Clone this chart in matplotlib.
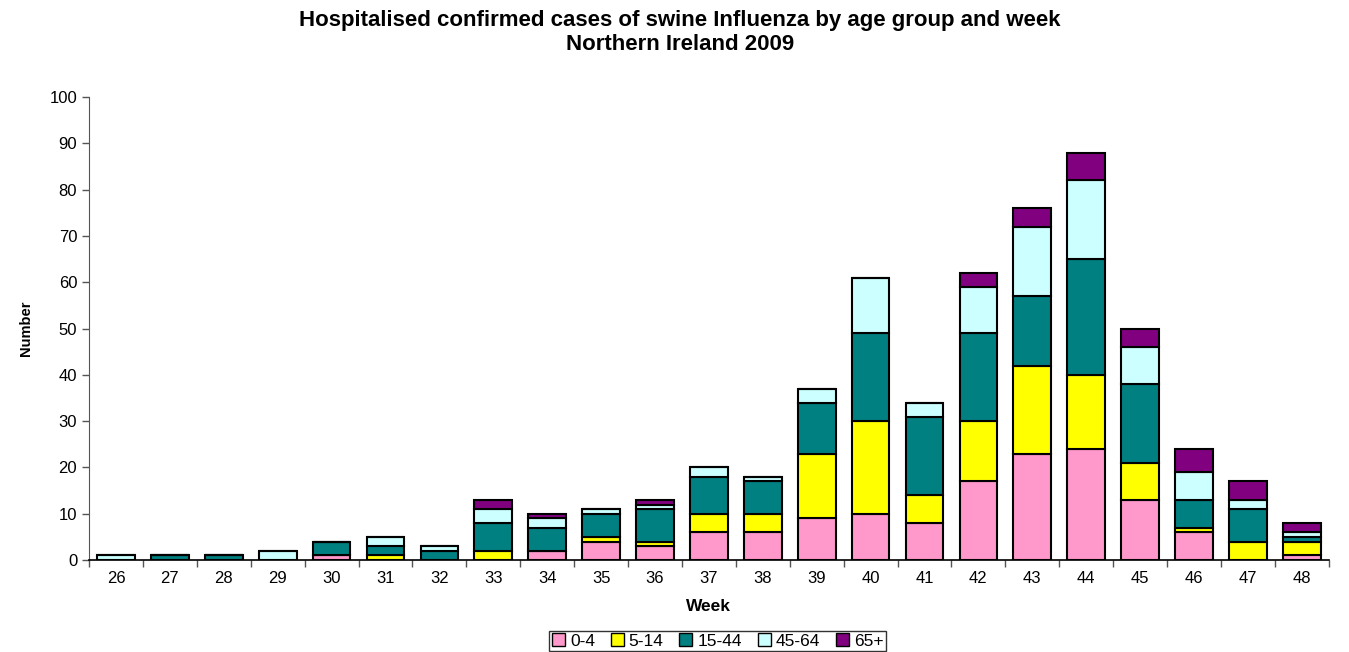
import matplotlib
matplotlib.use("Agg")
import matplotlib.pyplot as plt
import numpy as np

weeks = [str(w) for w in range(26, 49)]
age_groups = ["0-4", "5-14", "15-44", "45-64", "65+"]
v_0_4   = [0, 0, 0, 0, 1, 0, 0, 0, 2, 4, 3, 6, 6, 9, 10, 8, 17, 23, 24, 13, 6, 0, 1]
v_5_14  = [0, 0, 0, 0, 0, 1, 0, 2, 0, 1, 1, 4, 4, 14, 20, 6, 13, 19, 16, 8, 1, 4, 3]
v_15_44 = [0, 1, 1, 0, 3, 2, 2, 6, 5, 5, 7, 8, 7, 11, 19, 17, 19, 15, 25, 17, 6, 7, 1]
v_45_64 = [1, 0, 0, 2, 0, 2, 1, 3, 2, 1, 1, 2, 1, 3, 12, 3, 10, 15, 17, 8, 6, 2, 1]
v_65    = [0, 0, 0, 0, 0, 0, 0, 2, 1, 0, 1, 0, 0, 0, 0, 0, 3, 4, 6, 4, 5, 4, 2]
series = [v_0_4, v_5_14, v_15_44, v_45_64, v_65]
colors = ["#FF99CC", "#FFFF00", "#008080", "#CCFFFF", "#800080"]

plt.rcParams['font.family'] = ['Liberation Sans', 'DejaVu Sans']

fig = plt.figure(figsize=(13.49, 6.52), dpi=100)
ax = fig.add_axes([0.066, 0.141, 0.919, 0.710])

x = np.arange(len(weeks))
bottom = np.zeros(len(weeks))
for name, vals, c in zip(age_groups, series, colors):
    vals = np.array(vals, dtype=float)
    ax.bar(x, vals, width=0.70, bottom=bottom, color=c, edgecolor="black",
           linewidth=1.5, label=name, zorder=3)
    bottom += vals

ax.set_xlim(-0.5, len(weeks) - 0.5)
ax.set_ylim(0, 100)
ax.set_yticks(np.arange(0, 101, 10))
ax.set_xticks(x)
ax.set_xticklabels(weeks)
ax.set_xticks(np.arange(-0.5, len(weeks), 1), minor=True)
ax.tick_params(axis='x', which='major', length=0, labelsize=12, pad=8)
ax.tick_params(axis='x', which='minor', length=5, width=1, color="#555555", direction='out')
ax.tick_params(axis='y', length=5, width=1, color="#555555", labelsize=12)
for s in ["top", "right"]:
    ax.spines[s].set_visible(False)
ax.spines["left"].set_color("#555555")
ax.spines["bottom"].set_color("black")
ax.spines["bottom"].set_linewidth(1.2)

ax.set_xlabel("Week", fontsize=12.5, fontweight="bold", labelpad=9)
ax.set_ylabel("Number", fontsize=10.5, fontweight="bold", labelpad=12)

fig.text(0.504, 0.968, "Hospitalised confirmed cases of swine Influenza by age group and week",
         ha="center", va="center", fontsize=16, fontweight="bold")
fig.text(0.504, 0.932, "Northern Ireland 2009", ha="center", va="center",
         fontsize=16, fontweight="bold")

leg = fig.legend(loc="center", bbox_to_anchor=(0.532, 0.017), ncol=5, frameon=True,
                 fontsize=12.5, handlelength=0.75, handleheight=0.75, handletextpad=0.3,
                 columnspacing=0.9, borderpad=0.15, fancybox=False, edgecolor="black")
leg.get_frame().set_linewidth(1.0)
for h in leg.legend_handles:
    h.set_linewidth(1.0)

fig.savefig("out.png", dpi=100)
